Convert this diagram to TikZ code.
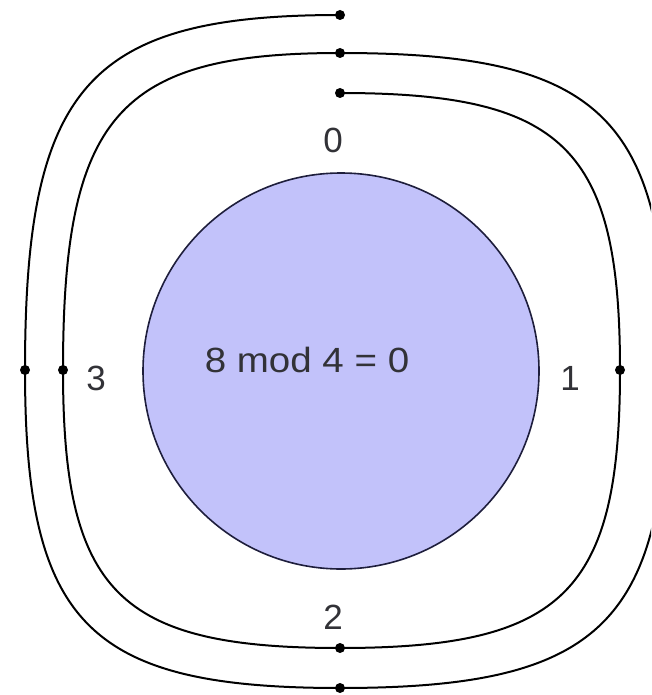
\documentclass[tikz,border=0pt]{standalone}
\usepackage{fontspec}
\setmainfont{Liberation Sans}
\definecolor{discfill}{RGB}{194,194,250}
\definecolor{discline}{RGB}{30,30,60}
\definecolor{txt}{RGB}{50,50,55}
\begin{document}
\begin{tikzpicture}[x=1pt,y=-1pt,
  dot/.style={circle,fill=black,inner sep=0pt,minimum size=10pt},
  spiral/.style={line width=2pt,black},
  lbl/.style={text=txt,font=\fontsize{35}{35}\selectfont,inner sep=0pt}]
\useasboundingbox (0,0) rectangle (651,695);
\begin{scope}
\clip (0,0) rectangle (651,695);
% disc
\node[circle,draw=discline,fill=discfill,line width=1.6pt,minimum size=396pt,inner sep=0pt] (disc) at (341,371) {};
% spiral points
\coordinate (p0) at (340,93);
\coordinate (p1) at (620,370);
\coordinate (p2) at (340,648);
\coordinate (p3) at (63,370);
\coordinate (p4) at (340,53);
\coordinate (p5) at (667,370);
\coordinate (p6) at (340,688);
\coordinate (p7) at (25,370);
\coordinate (p8) at (340,15);
\draw[spiral] (p0) .. controls +(224,0) and +(0,-222) .. (p1)
  .. controls +(0,222) and +(224,0) .. (p2)
  .. controls +(-222,0) and +(0,222) .. (p3)
  .. controls +(0,-254) and +(-222,0) .. (p4)
  .. controls +(260,0) and +(0,-254) .. (p5)
  .. controls +(0,254) and +(260,0) .. (p6)
  .. controls +(-252,0) and +(0,254) .. (p7)
  .. controls +(0,-284) and +(-252,0) .. (p8);
\end{scope}
% dots
\foreach \p in {p0,p1,p2,p3,p4,p6,p7,p8} \node[dot] (d\p) at (\p) {};
% labels
\node[lbl] (l0) at (333,140) {0};
\node[lbl] (l1) at (570,378) {1};
\node[lbl] (l2) at (333,617) {2};
\node[lbl] (l3) at (96,378) {3};
\node[lbl,xscale=1.1] (eq) at (307,360) {8 mod 4 = 0};
\end{tikzpicture}
\end{document}
